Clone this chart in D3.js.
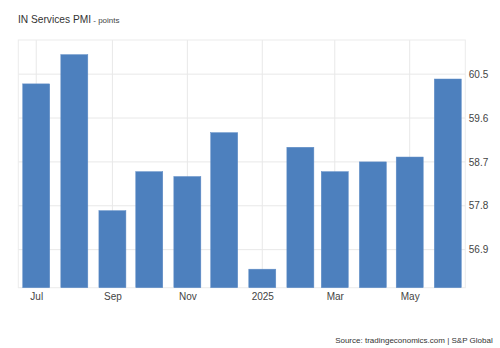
<!DOCTYPE html>
<html><head><meta charset="utf-8">
<script src="https://cdn.jsdelivr.net/npm/d3@7"></script>
<style>
body{margin:0;background:#fff;}
text{font-family:"Liberation Sans",Arial,sans-serif;}
</style></head>
<body><svg id="c" width="500" height="348"></svg>
<script>
const months = ["2024-07-01","2024-08-01","2024-09-01","2024-10-01","2024-11-01","2024-12-01","2025-01-01","2025-02-01","2025-03-01","2025-04-01","2025-05-01","2025-06-01"];
const values = [60.3,60.9,57.7,58.5,58.4,59.3,56.5,59.0,58.5,58.7,58.8,60.4];
const yTicks = [56.9,57.8,58.7,59.6,60.5];
const xTickDates = ["2024-07-01","2024-09-01","2024-11-01","2025-01-01","2025-03-01","2025-05-01"];
const xTickLabels = ["Jul","Sep","Nov","2025","Mar","May"];

const svg = d3.select("#c");
const L=18.3, R=465.3, T=40, B=287.7;
const parse = d3.utcParse("%Y-%m-%d");
const day = 864e5;
const x = d3.scaleUtc()
  .domain([new Date(+parse(months[0]) - 14.6*day), new Date(+parse(months[months.length-1]) + 14.25*day)])
  .range([L,R]);
const y = d3.scaleLinear().domain([56.12,61.2]).range([B,T]);

// grid
const g = svg.append("g");
g.selectAll(".hg").data(yTicks).join("line")
  .attr("x1",L).attr("x2",R).attr("y1",d=>y(d)).attr("y2",d=>y(d))
  .attr("stroke","#e8e8e8").attr("stroke-width",1);
g.selectAll(".vg").data(xTickDates).join("line")
  .attr("x1",d=>x(parse(d))).attr("x2",d=>x(parse(d))).attr("y1",T).attr("y2",B)
  .attr("stroke","#e8e8e8").attr("stroke-width",1);
// border
svg.append("rect").attr("x",L).attr("y",T).attr("width",R-L).attr("height",B-T)
  .attr("fill","none").attr("stroke","#ececec").attr("stroke-width",1);

// bars
const bw = 27;
svg.append("g").selectAll("rect").data(values).join("rect")
  .attr("x",(d,i)=>x(parse(months[i]))-bw/2)
  .attr("width",bw)
  .attr("y",d=>y(d))
  .attr("height",d=>B-y(d))
  .attr("fill","#4d80be")
  .attr("stroke","#5f8cc6").attr("stroke-width",0.5);

// y axis labels (right)
const ya = d3.axisRight(y).tickValues(yTicks).tickSize(0).tickPadding(0).tickFormat(d3.format(".1f"));
const yg = svg.append("g").attr("transform",`translate(${R+3.5},0)`).call(ya);
yg.select(".domain").remove();
yg.selectAll("text").attr("font-size",10).attr("fill","#444").attr("font-family","'Liberation Sans',Arial,sans-serif");

// x axis labels
const xa = d3.axisBottom(x).tickValues(xTickDates.map(parse)).tickSize(0).tickPadding(0)
  .tickFormat((d,i)=>xTickLabels[i]);
const xg = svg.append("g").attr("transform",`translate(0,${B+5.5})`).call(xa);
xg.select(".domain").remove();
xg.selectAll("text").attr("font-size",10).attr("fill","#444").attr("font-family","'Liberation Sans',Arial,sans-serif");

// title
const t = svg.append("text").attr("x",18).attr("y",23.3).attr("fill","#333");
t.append("tspan").attr("font-size",10.2).text("IN Services PMI");
t.append("tspan").attr("font-size",8).attr("fill","#444").text(" - points");

// source
svg.append("text").attr("x",492.7).attr("y",343).attr("text-anchor","end")
  .attr("font-size",8).attr("fill","#333").text("Source: tradingeconomics.com | S&P Global");
</script></body></html>
